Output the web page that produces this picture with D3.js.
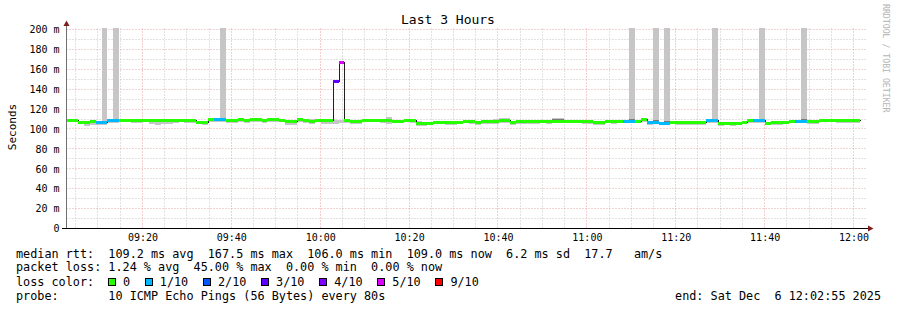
<!DOCTYPE html>
<html>
<head>
<meta charset="utf-8">
<script src="https://cdn.jsdelivr.net/npm/d3@7"></script>
<style>
  body { margin: 0; background: #fff; }
  svg { display: block; }
  text { font-family: "DejaVu Sans Mono", monospace; fill: #000; }
</style>
</head>
<body>
<div id="chart"></div>
<script>
// one sample every 80 s, first one starts just before the graph start
var firstSample = new Date(2025, 11, 6, 9, 2, 47, 500);
var stepSeconds = 80;
var graphStart = new Date(2025, 11, 6, 9, 2, 55);
var graphEnd = new Date(2025, 11, 6, 12, 2, 55);

// median rtt per sample (ms)
var medianMs = [
  109.5,109.4,107.2,107.0,107.6,107.0,107.0,108.6,108.6,109.0,
  109.1,109.0,108.9,109.0,108.7,108.8,108.6,108.8,109.0,109.1,
  109.0,108.8,107.3,107.2,109.6,109.6,109.6,108.6,108.6,109.6,
  108.7,109.6,109.6,108.6,109.6,109.6,109.4,107.8,107.8,109.6,
  109.0,108.5,109.2,108.7,108.7,148.0,167.5,109.0,107.8,107.8,
  109.2,109.2,109.2,108.6,108.6,108.2,108.2,109.3,108.8,106.5,
  106.5,106.2,107.2,107.5,106.8,106.8,107.5,108.2,108.2,107.2,
  107.6,107.6,107.6,108.8,108.8,107.4,108.0,108.0,108.4,108.4,
  108.4,107.6,108.3,108.3,108.5,108.5,108.5,108.0,108.0,106.8,
  106.8,108.2,108.2,108.2,108.2,108.2,108.4,109.6,107.2,107.2,
  106.3,106.3,107.5,107.5,107.4,107.5,107.4,107.5,108.6,108.6,
  106.4,106.4,106.0,106.4,107.5,108.7,108.7,108.7,106.3,107.0,
  107.0,107.3,108.4,108.4,108.4,108.0,108.0,109.2,109.5,109.5,
  108.6,108.6,108.6,108.6
];

// lost pings out of 10 per sample
var lossCount = [
  0,0,0,0,0,1,1,1,1,0, 0,0,0,0,0,0,0,0,0,0,
  0,0,0,0,0,1,1,0,0,0, 0,0,0,0,0,0,0,0,0,0,
  0,0,0,0,0,3,5,0,0,0, 0,0,0,0,0,0,0,0,0,0,
  0,0,0,0,0,0,0,0,0,0, 0,0,0,0,0,0,0,0,0,0,
  0,0,0,0,0,0,0,0,0,0, 0,0,0,0,1,1,0,0,1,1,
  1,1,0,0,0,0,0,0,1,1, 0,0,0,0,0,0,1,1,0,0,
  0,0,0,1,1,0,0,0,0,0, 0,0,0,0
];

// fastest and slowest ping per sample (ms)
var smokeLoMs = [
  106.8,107.0,104.6,103.5,103.8,104.2,104.4,106.0,106.2,106.6,
  106.8,106.4,106.2,106.6,104.8,104.5,104.9,105.2,106.4,106.8,
  106.5,106.2,104.8,104.4,107.0,107.2,107.1,105.9,106.0,107.0,
  106.1,107.1,107.0,106.0,107.2,107.0,106.8,103.9,104.2,107.0,
  106.3,105.2,106.6,105.4,104.6,105.5,105.8,106.4,104.9,105.2,
  106.6,106.8,106.7,105.9,105.4,105.6,105.8,106.9,106.2,103.4,
  103.2,103.6,104.6,104.8,104.2,104.0,104.9,105.6,105.1,103.9,
  104.8,105.0,105.2,106.1,106.2,104.2,105.3,105.5,105.2,105.0,
  105.8,104.6,105.8,105.7,105.9,105.8,106.0,105.3,105.5,104.0,
  104.2,105.6,105.4,105.7,105.6,105.8,105.9,107.1,104.3,104.6,
  103.7,103.6,104.8,103.9,103.8,103.9,104.1,104.4,106.1,106.0,
  103.5,103.7,103.4,103.8,104.9,106.2,106.0,106.2,103.6,104.2,
  104.0,104.7,105.9,105.8,105.9,105.4,105.2,106.7,107.0,106.9,
  106.1,106.0,106.2,106.0
];
var smokeHiMs = [
  110.2,110.4,108.4,108.2,108.6,108.0,260,109.6,260,109.8,
  110.0,109.8,109.6,109.9,109.4,109.5,109.2,109.6,109.8,110.0,
  109.7,109.5,108.2,108.4,110.4,110.6,260,109.4,109.2,110.4,
  109.5,110.3,110.5,109.4,110.4,110.2,110.3,108.6,108.7,110.3,
  109.8,109.6,110.0,109.5,109.4,108.6,108.8,109.8,108.9,108.8,
  110.0,110.1,109.9,109.5,111.6,109.0,109.2,110.1,109.9,107.6,
  107.4,107.2,108.0,108.4,107.6,107.7,108.3,109.1,109.0,108.0,
  108.4,108.6,110.5,110.8,110.6,108.3,108.8,108.9,109.3,109.2,
  109.1,108.6,111.2,111.4,109.3,109.2,109.4,108.8,108.7,107.6,
  107.6,109.0,109.1,109.0,109.2,260,109.3,110.4,108.2,260,
  107.4,260,108.3,108.2,108.1,108.3,108.2,108.4,109.4,260,
  107.5,107.4,107.2,107.3,108.3,109.6,109.5,260,107.2,107.8,
  107.8,108.2,109.3,109.2,260,108.9,108.8,110.2,110.3,110.4,
  109.4,109.3,109.4,109.3
];

var lossThresholds = [0, 1, 2, 3, 4, 5, 9];
var lossLabels = ["0", "1/10", "2/10", "3/10", "4/10", "5/10", "9/10"];
var lossColors = ["#26ff00", "#00b8ff", "#0059ff", "#5e00ff", "#7e00ff", "#dd00ff", "#ff0000"];

var yTicks = [0, 20, 40, 60, 80, 100, 120, 140, 160, 180, 200];
var yTickLabels = ["0", "20 m", "40 m", "60 m", "80 m", "100 m", "120 m", "140 m", "160 m", "180 m", "200 m"];

var titleText = "Last 3 Hours";
var yLabelText = "Seconds";
var statsRows = [
  "median rtt:  109.2 ms avg  167.5 ms max  106.0 ms min  109.0 ms now  6.2 ms sd  17.7   am/s",
  "packet loss: 1.24 % avg  45.00 % max  0.00 % min  0.00 % now",
  "loss color:",
  "probe:       10 ICMP Echo Pings (56 Bytes) every 80s"
];
var endText = "end: Sat Dec  6 12:02:55 2025";
var watermark = "RRDTOOL / TOBI OETIKER";

function init(){
    var w = 897;
    var h = 310;

    var svg = d3.select("#chart")
      .append("svg")
      .attr("width", w)
      .attr("height", h);

    var xScale = d3.scaleTime()
      .domain([graphStart, graphEnd])
      .range([66.5, 866.5]);

    var yScale = d3.scaleLinear()
      .domain([0, 201])
      .range([228.5, 28.5]);

    var sampleTime = function(i){
      return new Date(firstSample.getTime() + i * stepSeconds * 1000);
    };
    var crisp = function(v){ return Math.floor(v) + 0.5; };

    // grid
    var grid = svg.append("g");
    var minorY = yScale.ticks(20).filter(function(v){ return yTicks.indexOf(v) < 0; });
    var minorX = d3.timeMinute.every(5).range(graphStart, graphEnd);
    var majorX = d3.timeMinute.every(20).range(graphStart, graphEnd);

    grid.selectAll("line.minory").data(minorY).enter().append("line")
      .attr("x1", 66.5).attr("x2", 866.5)
      .attr("y1", function(d){ return crisp(yScale(d)); })
      .attr("y2", function(d){ return crisp(yScale(d)); })
      .attr("stroke", "#c4c4c4").attr("stroke-dasharray", "1,2");
    grid.selectAll("line.minorx").data(minorX.filter(function(t){ return t.getMinutes() % 20 != 0; })).enter().append("line")
      .attr("y1", 28.5).attr("y2", 228.5)
      .attr("x1", function(d){ return crisp(xScale(d)); })
      .attr("x2", function(d){ return crisp(xScale(d)); })
      .attr("stroke", "#c4c4c4").attr("stroke-dasharray", "1,2");
    grid.selectAll("line.majory").data(yTicks.slice(1)).enter().append("line")
      .attr("x1", 66.5).attr("x2", 866.5)
      .attr("y1", function(d){ return crisp(yScale(d)); })
      .attr("y2", function(d){ return crisp(yScale(d)); })
      .attr("stroke", "#e2a9a9").attr("stroke-dasharray", "1,2");
    grid.selectAll("line.majorx").data(majorX).enter().append("line")
      .attr("y1", 28.5).attr("y2", 228.5)
      .attr("x1", function(d){ return crisp(xScale(d)); })
      .attr("x2", function(d){ return crisp(xScale(d)); })
      .attr("stroke", "#eb9f9f").attr("stroke-dasharray", "1,2");

    // plot clip
    svg.append("clipPath").attr("id", "plotclip")
      .append("rect").attr("x", 66.5).attr("y", 28).attr("width", 800).attr("height", 200.5);

    var plot = svg.append("g").attr("clip-path", "url(#plotclip)")
      .attr("shape-rendering", "crispEdges");

    var idx = d3.range(medianMs.length);
    var sx = function(i){ return Math.round(xScale(sampleTime(i))); };
    var sw = function(i){ return Math.round(xScale(sampleTime(i + 1))) - Math.round(xScale(sampleTime(i))); };

    // smoke: full spread
    plot.selectAll("rect.smoke").data(idx).enter().append("rect")
      .attr("x", sx).attr("width", sw)
      .attr("y", function(i){ return Math.round(yScale(smokeHiMs[i])); })
      .attr("height", function(i){ return Math.max(1, Math.round(yScale(smokeLoMs[i])) - Math.round(yScale(smokeHiMs[i]))); })
      .attr("fill", "#c6c6c6");

    // smoke: inner spread around the median
    var inner = idx.filter(function(i){ return smokeLoMs[i] <= medianMs[i] && smokeHiMs[i] >= medianMs[i]; });
    plot.selectAll("rect.inner").data(inner).enter().append("rect")
      .attr("x", sx).attr("width", sw)
      .attr("y", function(i){ return Math.round(yScale(medianMs[i] + Math.min(smokeHiMs[i] - medianMs[i], 3) * 0.5)); })
      .attr("height", function(i){
        var top = Math.round(yScale(medianMs[i] + Math.min(smokeHiMs[i] - medianMs[i], 3) * 0.5));
        var bot = Math.round(yScale(medianMs[i] - (medianMs[i] - smokeLoMs[i]) * 0.5));
        return Math.max(0, bot - top);
      })
      .attr("fill", "#7a7a7a");

    // median line
    var pts = idx.map(function(i){ return [sampleTime(i), medianMs[i]]; });
    pts.push([sampleTime(medianMs.length), medianMs[medianMs.length - 1]]);
    var line = d3.line()
      .x(function(d){ return Math.round(xScale(d[0])) + 0.5; })
      .y(function(d){ return Math.round(yScale(d[1])) + 0.5; })
      .curve(d3.curveStepAfter);
    plot.append("path").datum(pts)
      .attr("d", line)
      .attr("fill", "none")
      .attr("stroke", "#202020")
      .attr("stroke-width", 1);

    // loss coloured median band
    var lossColor = function(c){
      var k = 0;
      lossThresholds.forEach(function(t, j){ if (c >= t) k = j; });
      return lossColors[k];
    };
    plot.selectAll("rect.loss").data(idx).enter().append("rect")
      .attr("x", sx).attr("width", sw)
      .attr("y", function(i){ return Math.round(yScale(medianMs[i])) - 1; })
      .attr("height", 3)
      .attr("fill", function(i){ return lossColor(lossCount[i]); });

    // axes
    var xAxis = d3.axisBottom(xScale).tickValues(majorX)
      .tickFormat(d3.timeFormat("%H:%M")).tickSize(0).tickPadding(5.5);
    var gx = svg.append("g").attr("transform", "translate(0,228.5)").call(xAxis);
    gx.select(".domain").remove();
    gx.selectAll("text").attr("font-size", "10px").attr("font-family", "DejaVu Sans Mono");

    var yAxis = d3.axisLeft(yScale).tickValues(yTicks)
      .tickFormat(function(d, i){ return yTickLabels[i]; }).tickSize(0).tickPadding(6.5);
    var gy = svg.append("g").attr("transform", "translate(66,0)").call(yAxis);
    gy.select(".domain").remove();
    gy.selectAll("text").attr("font-size", "10px").attr("font-family", "DejaVu Sans Mono");

    svg.append("line").attr("x1", 66.5).attr("x2", 66.5).attr("y1", 25).attr("y2", 228.5)
      .attr("stroke", "#707070").attr("shape-rendering", "crispEdges");
    svg.append("line").attr("x1", 62).attr("x2", 870).attr("y1", 228.5).attr("y2", 228.5)
      .attr("stroke", "#000").attr("shape-rendering", "crispEdges");
    svg.append("path").attr("d", "M63.5,26 L66.5,20.5 L69.5,26 Z").attr("fill", "#7f1d1d");
    svg.append("path").attr("d", "M868,225.5 L873.5,228.5 L868,231.5 Z").attr("fill", "#7f1d1d");

    // title and labels
    svg.append("text")
      .attr("x", 448).attr("y", 24)
      .attr("text-anchor", "middle")
      .attr("font-size", "13px")
      .text(titleText);

    svg.append("text")
      .attr("text-anchor", "middle")
      .attr("transform", "translate(16,127) rotate(-90)")
      .attr("font-size", "11px")
      .text(yLabelText);

    svg.append("text")
      .attr("transform", "translate(883,4) rotate(90)")
      .attr("font-size", "8.2px")
      .style("fill", "#b4b4b4")
      .text(watermark);

    // legend
    var rowY = [258, 271, 286, 300];
    statsRows.forEach(function(s, i){
      svg.append("text")
        .attr("x", 16).attr("y", rowY[i])
        .attr("font-size", "11.8px")
        .style("white-space", "pre")
        .text(s);
    });

    var bx = 108;
    lossLabels.forEach(function(lab, i){
      svg.append("rect")
        .attr("x", bx + 0.5).attr("y", rowY[2] - 7.5)
        .attr("width", 7).attr("height", 7)
        .attr("fill", lossColors[i])
        .attr("stroke", "#000")
        .attr("shape-rendering", "crispEdges");
      var t = svg.append("text")
        .attr("x", bx + 15).attr("y", rowY[2])
        .attr("font-size", "11.8px")
        .text(lab);
      bx = bx + 15 + t.node().getComputedTextLength() + 14.7;
    });

    svg.append("text")
      .attr("x", 881).attr("y", rowY[3])
      .attr("text-anchor", "end")
      .attr("font-size", "11.8px")
      .style("white-space", "pre")
      .text(endText);
}

window.onload = init;
</script>
</body>
</html>
